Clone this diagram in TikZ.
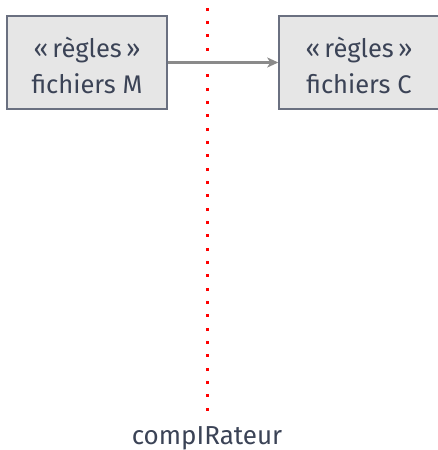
\documentclass[tikz,border=0pt]{standalone}
\usepackage{fontspec}
\setmainfont{Fira Sans}
\usetikzlibrary{arrows.meta}
\definecolor{ink}{HTML}{3B4356}
\definecolor{boxfill}{HTML}{E6E6E6}
\definecolor{boxline}{HTML}{6A7080}
\definecolor{flow}{HTML}{8A8A8A}
\tikzset{
  rulebox/.style={draw=boxline, fill=boxfill, line width=1.5pt,
    minimum width=160pt, minimum height=93pt, inner sep=0pt},
  boxtext/.style={align=center, text=ink, inner sep=0pt, yshift=-3pt,
    font=\fontsize{25.5}{36}\selectfont},
  flowarrow/.style={draw=flow, line width=2.2pt,
    -{Stealth[length=11pt,width=10pt,inset=3pt]}},
  dotmark/.style={fill=red, draw=none, minimum size=3pt, inner sep=0pt, shape=rectangle},
  caption/.style={text=ink, font=\fontsize{26}{30}\selectfont, anchor=base}
}
\begin{document}
\begin{tikzpicture}[x=1pt,y=-1pt]
  \useasboundingbox (0,0) rectangle (437,450);
  % module boundary: a column of red dots
  \foreach \k in {0,...,30}
    \node[dotmark] (d\k) at (207.5,9.3+13.333*\k) {};
  % rule files
  \node[rulebox] (m) at (87,62.5) {};
  \node[boxtext] (mt) at (m.center) {«\,règles\,»\\fichiers M};
  \node[rulebox] (c) at (359,62.5) {};
  \node[boxtext] (ct) at (c.center) {«\,règles\,»\\fichiers C};
  \draw[flowarrow] (m.east) -- (c.west);
  % boundary label
  \node[caption] (lbl) at (207,444.5) {compIRateur};
\end{tikzpicture}
\end{document}
